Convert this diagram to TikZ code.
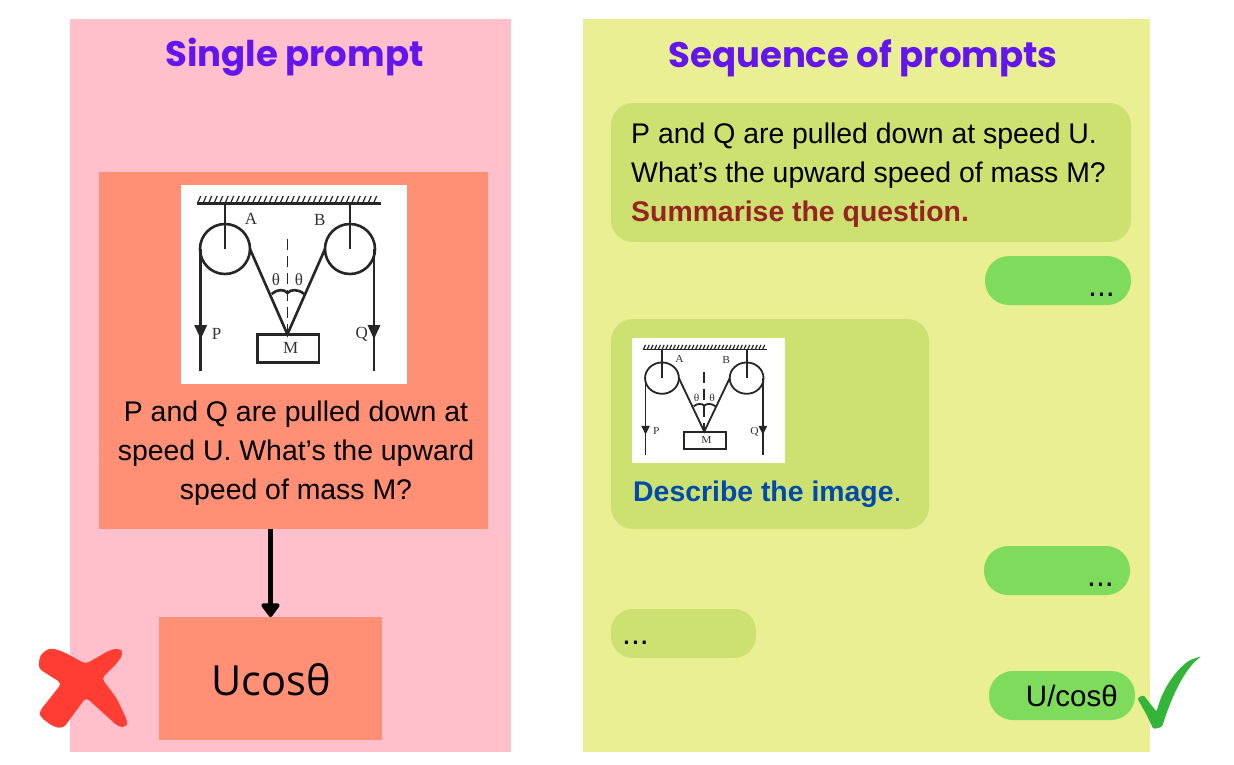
\documentclass[tikz,border=0pt]{standalone}
\usepackage{fontspec}
\setmainfont{Liberation Sans}
\newfontfamily\titlefont{Poppins}
\newfontfamily\answerfont{Open Sans}
\newfontfamily\sketchfont{Liberation Serif}
\usetikzlibrary{arrows.meta, positioning, calc}
\definecolor{panelpink}{HTML}{FFC0CB}
\definecolor{panelyellow}{HTML}{EAEF94}
\definecolor{boxsalmon}{HTML}{FF8F75}
\definecolor{bubbleolive}{HTML}{CCE16F}
\definecolor{bubblegreen}{HTML}{7FDB5C}
\definecolor{titlepurple}{HTML}{6215EC}
\definecolor{hintred}{HTML}{982323}
\definecolor{hintblue}{HTML}{004AAD}
\definecolor{crossred}{HTML}{FF3D33}
\definecolor{tickgreen}{HTML}{34B53A}
\tikzset{
  block/.style={rectangle, inner sep=0pt, outer sep=0pt},
  bubble/.style={block, fill=bubbleolive, rounded corners=22pt},
  reply/.style={block, fill=bubblegreen, rounded corners=24pt, minimum width=146pt, minimum height=49pt},
  body/.style={inner sep=0pt, font=\fontsize{28.4}{39}\selectfont},
  dots/.style={inner sep=0pt, font=\fontsize{32}{39}\selectfont},
  heading/.style={inner sep=0pt, text=titlepurple, font=\titlefont\bfseries\fontsize{35.5}{40}\selectfont},
  sketchlabel/.style={inner sep=0pt, text=black!80, font=\sketchfont\fontsize{17}{17}\selectfont},
  rope/.style={line width=2.6pt, black!85},
  pulleys/.pic={
    \fill[white] (0,0) rectangle (226,199);
    \draw[rope] (16,18.3) -- (200,18.3);
    \foreach \hx in {17,22.5,...,198} \draw[black!85, line width=1.2pt] (\hx,18) -- (\hx+3,11);
    \draw[rope] (44.3,18.3) -- (44.3,64);
    \draw[rope] (169.3,18.3) -- (169.3,64);
    \draw[rope] (44.3,64) circle [radius=25];
    \draw[rope] (169.3,64) circle [radius=25];
    \draw[rope] (20,64) -- (20,186);
    \draw[rope] (193.3,64) -- (193.3,186);
    \fill[black!85] (13.5,140) -- (26.5,140) -- (20,154) -- cycle;
    \fill[black!85] (186.8,140) -- (199.8,140) -- (193.3,154) -- cycle;
    \draw[rope] (69.3,64) -- (106.7,149.3) -- (144.3,64);
    \draw[rope, line width=1.8pt, dash pattern=on 11pt off 6pt] (106.7,54) -- (106.7,149.3);
    \draw[rope] (91,109) .. controls (96,104) and (104,104) .. (106.7,108) .. controls (110,104) and (118,104) .. (123.3,109);
    \draw[rope] (76.7,149.3) rectangle (138.3,177.3);
    \node[sketchlabel] (-a) at (70.3,34) {A};
    \node[sketchlabel] (-b) at (139,35) {B};
    \node[sketchlabel] (-tl) at (95.3,95) {θ};
    \node[sketchlabel] (-tr) at (118.3,95) {θ};
    \node[sketchlabel] (-m) at (110,162.7) {M};
    \node[sketchlabel] (-p) at (36,149) {P};
    \node[sketchlabel] (-q) at (181,149) {Q};
  }}
\begin{document}
\begin{tikzpicture}[x=1pt, y=-1pt]
  \useasboundingbox (0,0) rectangle (1234,764);
  % left panel
  \node[block, fill=panelpink, minimum width=441pt, minimum height=733pt] (single) at (290.5,385.5) {};
  \node[heading] (singletitle) at (294.5,57.5) {Single prompt};
  \node[block, fill=boxsalmon, minimum width=389pt, minimum height=357pt] (question) at (293.5,350.5) {};
  \pic (bigsketch) at (180.7,185) {pulleys};
  \node[body, align=center] (questiontext) at (296,453) {P and Q are pulled down at\\speed U. What’s the upward\\speed of mass M?};
  \node[block, fill=boxsalmon, minimum width=223pt, minimum height=123pt] (answer) at (270.5,678.5) {};
  \node[inner sep=0pt, font=\answerfont\fontsize{41.5}{44}\selectfont] (answertext) at (271,680) {Ucosθ};
  \draw[-{Triangle[width=21pt, length=15pt, round]}, line width=5.5pt] (question.south -| answer) -- (answer.north);
  % right panel
  \node[block, fill=panelyellow, minimum width=567pt, minimum height=733pt] (sequence) at (866.5,385.5) {};
  \node[heading] (sequencetitle) at (863,58.5) {Sequence of prompts};
  \node[bubble, minimum width=520pt, minimum height=139pt] (first) at (871,172.5) {};
  \node[body, align=left, anchor=west] (firsttext) at (631,175.5) {P and Q are pulled down at speed U.\\What’s the upward speed of mass M?\\\textcolor{hintred}{\textbf{Summarise the question.}}};
  \node[reply] (replyone) at (1058,280.5) {};
  \node[dots, anchor=base east] (replyonetext) at (1115,296) {...};
  \node[bubble, minimum width=318pt, minimum height=210pt] (second) at (770,424) {};
  \pic[xscale=.677, yscale=.627, transform shape, rope/.append style={line width=1.8pt}] (smallsketch) at (632,338) {pulleys};
  \node[body, anchor=west, text=hintblue] (secondtext) at (633,494.5) {\textbf{Describe the image}.};
  \node[reply] (replytwo) at (1057,570.5) {};
  \node[dots, anchor=base east] (replytwotext) at (1114,586) {...};
  \node[bubble, minimum width=145pt, minimum height=49pt] (third) at (683.5,633.5) {};
  \node[dots, anchor=base west] (thirdtext) at (622,644) {...};
  \node[reply] (replythree) at (1062,695.5) {};
  \node[body, anchor=east, font=\fontsize{29.5}{39}\selectfont] (replythreetext) at (1118,696) {U/cosθ};
  % marks
  \fill[crossred, rounded corners=4pt] (38.3,668.3) -- (40,655) -- (50,647.7) -- (63.3,651.7) -- (85.7,664) -- (110,650) -- (120,648.3) -- (123.3,653.3) -- (118.3,661.7) -- (101.7,678.3) -- (116.7,698.3) -- (127.7,721.7) -- (126,727.3) -- (118.3,726.7) -- (86,697.3) -- (63.3,728.3) -- (53.3,726.7) -- (40,716.7) -- (39.3,711.7) -- (61.7,683.3) -- cycle;
  \fill[tickgreen, rounded corners=1.5pt] (1137.3,698.3) -- (1143.3,695) -- (1156.7,711.7) .. controls (1161,693) and (1173,672) .. (1190,660) -- (1201.7,656) .. controls (1185,668) and (1172,695) .. (1162,727) -- (1153.3,729) -- (1146.7,715) -- cycle;
\end{tikzpicture}
\end{document}
